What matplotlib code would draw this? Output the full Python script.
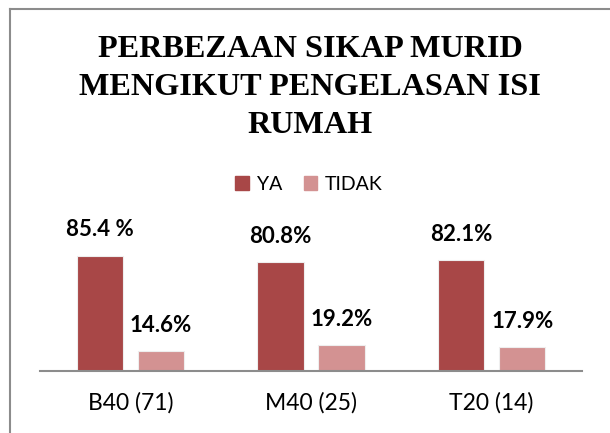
import numpy as np
import matplotlib
matplotlib.use("Agg")
import matplotlib.pyplot as plt
from matplotlib.lines import Line2D
from matplotlib.patches import Patch

categories = ["B40 (71)", "M40 (25)", "T20 (14)"]
ya_values = [85.4, 80.8, 82.1]
tidak_values = [14.6, 19.2, 17.9]
ya_labels = ["85.4 %", "80.8%", "82.1%"]
tidak_labels = ["14.6%", "19.2%", "17.9%"]
series_names = ["YA", "TIDAK"]

YA_COLOR = "#A84747"
TIDAK_COLOR = "#D39292"

fig = plt.figure(figsize=(6.1, 4.33), dpi=100)
ax = fig.add_axes([40 / 610, 62 / 433, 542 / 610, 135 / 433])

x = np.arange(len(categories))
w = 0.257
off = 0.169
b1 = ax.bar(x - off, ya_values, w, color=YA_COLOR, edgecolor="#eeeeee", linewidth=0.8)
b2 = ax.bar(x + off, tidak_values, w, color=TIDAK_COLOR, edgecolor="#eeeeee", linewidth=0.8)

lab_font = dict(family="Lato", weight="bold", size=16, color="black")
ax.bar_label(b1, labels=ya_labels, padding=11, **lab_font)
ax.bar_label(b2, labels=tidak_labels, padding=11, **lab_font)

ax.set_xlim(-0.5, 2.5)
ax.set_ylim(0, 100)
ax.set_xticks(x)
ax.set_xticklabels(categories, family="Lato", fontsize=16.5)
ax.tick_params(axis="x", length=0, pad=15)
ax.set_yticks([])
for s in ["top", "right", "left"]:
    ax.spines[s].set_visible(False)
ax.spines["bottom"].set_color("#8c8c8c")
ax.spines["bottom"].set_linewidth(1.5)

fig.text(310 / 610, 1 - 35 / 433,
         "PERBEZAAN SIKAP MURID\nMENGIKUT PENGELASAN ISI\nRUMAH",
         ha="center", va="top", family="Liberation Serif", weight="bold",
         fontsize=23.2, linespacing=1.42)

handles = [Patch(color=YA_COLOR), Patch(color=TIDAK_COLOR)]
fig.legend(handles, series_names, loc="center", bbox_to_anchor=(309 / 610, 1 - 184 / 433),
           ncol=2, frameon=False, prop=dict(family="Lato", size=14),
           handlelength=0.7, handleheight=0.7, handletextpad=0.4, columnspacing=1.1)

# chart border (top and left edges visible)
fig.add_artist(Line2D([10 / 610, 1], [1 - 9 / 433, 1 - 9 / 433], transform=fig.transFigure,
                      color="#8c8c8c", linewidth=1.5))
fig.add_artist(Line2D([10 / 610, 10 / 610], [0, 1 - 9 / 433], transform=fig.transFigure,
                      color="#8c8c8c", linewidth=1.5))

fig.savefig("out.png", dpi=100)
